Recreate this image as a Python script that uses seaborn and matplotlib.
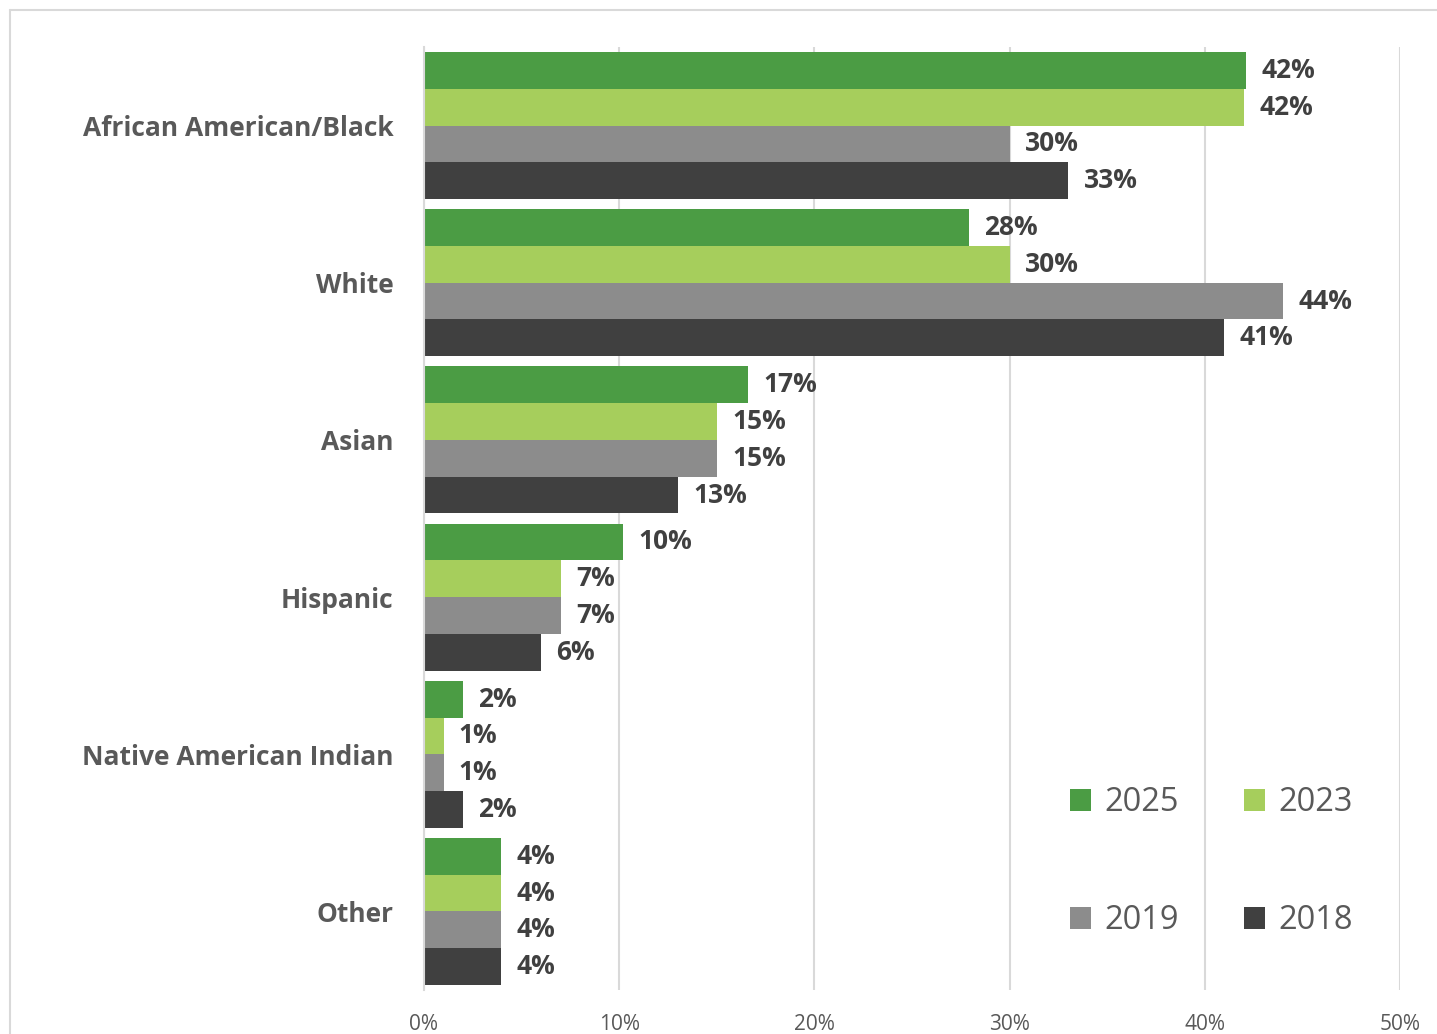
import matplotlib
matplotlib.use("Agg")
import matplotlib.pyplot as plt
from matplotlib.lines import Line2D
import seaborn as sns
import pandas as pd

categories = ["African American/Black", "White", "Asian", "Hispanic",
              "Native American Indian", "Other"]
years = ["2025", "2023", "2019", "2018"]
values_2025 = [42.1, 27.9, 16.6, 10.2, 2.0, 3.95]
values_2023 = [42.0, 30.0, 15.0, 7.0, 1.0, 3.95]
values_2019 = [30.0, 44.0, 15.0, 7.0, 1.0, 3.95]
values_2018 = [33.0, 41.0, 13.0, 6.0, 2.0, 3.95]
x_ticks = [0, 10, 20, 30, 40, 50]

colors = {"2025": "#4B9C44", "2023": "#A6CE5C", "2019": "#8C8C8C", "2018": "#404040"}

series = {"2025": values_2025, "2023": values_2023,
          "2019": values_2019, "2018": values_2018}
rows = []
for yr in years:
    for cat, v in zip(categories, series[yr]):
        rows.append({"category": cat, "year": yr, "value": v})
df = pd.DataFrame(rows)

sns.set_style("white")
plt.rcParams["font.family"] = ["Open Sans", "DejaVu Sans"]

fig = plt.figure(figsize=(14.37, 10.34), dpi=100)
ax = fig.add_axes([424 / 1437, 1 - 990 / 1034, (1400 - 424) / 1437, (990 - 47) / 1034])

sns.barplot(data=df, y="category", x="value", hue="year", hue_order=years,
            order=categories, palette=colors, orient="h", width=0.935,
            saturation=1, dodge=True, ax=ax, legend=True, errorbar=None,
            linewidth=0)

for cont in ax.containers:
    txts = ax.bar_label(cont, labels=[f"{b.get_width():.0f}%" for b in cont],
                        padding=11, fontsize=19, fontweight="bold", color="#404040")
    for t in txts:
        t.set_y(t.get_position()[1])
        t.set_va("center")

ax.set_xlim(0, 50)
ax.set_ylim(5.5, -0.5)
ax.set_xticks(x_ticks)
ax.set_xticklabels([f"{t}%" for t in x_ticks])
ax.grid(axis="x", color="#D9D9D9", linewidth=1.5)
ax.set_axisbelow(True)
for s in ["top", "right", "bottom"]:
    ax.spines[s].set_visible(False)
ax.spines["left"].set_color("#D9D9D9")
ax.spines["left"].set_linewidth(1.5)
ax.set_xlabel("")
ax.set_ylabel("")
ax.tick_params(axis="y", length=0, pad=22, labelsize=19, labelcolor="#595959")
ax.tick_params(axis="x", length=0, pad=17, labelsize=15, labelcolor="#595959")
for lab in ax.get_yticklabels():
    lab.set_fontweight("bold")
    lab.set_va("center_baseline")

handles, labels = ax.get_legend_handles_labels()
hmap = dict(zip(labels, handles))
order = ["2025", "2019", "2023", "2018"]
ax.legend([hmap[k] for k in order], order, ncol=2, frameon=False,
          loc="center", bbox_to_anchor=(0.807, 0.136), fontsize=23.5,
          labelcolor="#595959", handlelength=0.65, handleheight=0.65,
          handletextpad=0.4, columnspacing=2.0, labelspacing=2.6)

fig.add_artist(Line2D([9.5 / 1437, 9.5 / 1437], [0, 1 - 9.5 / 1034],
                      transform=fig.transFigure, color="#D9D9D9", linewidth=1.5))
fig.add_artist(Line2D([9.5 / 1437, 1], [1 - 9.5 / 1034, 1 - 9.5 / 1034],
                      transform=fig.transFigure, color="#D9D9D9", linewidth=1.5))

fig.savefig("out.png", dpi=100, facecolor="white")
